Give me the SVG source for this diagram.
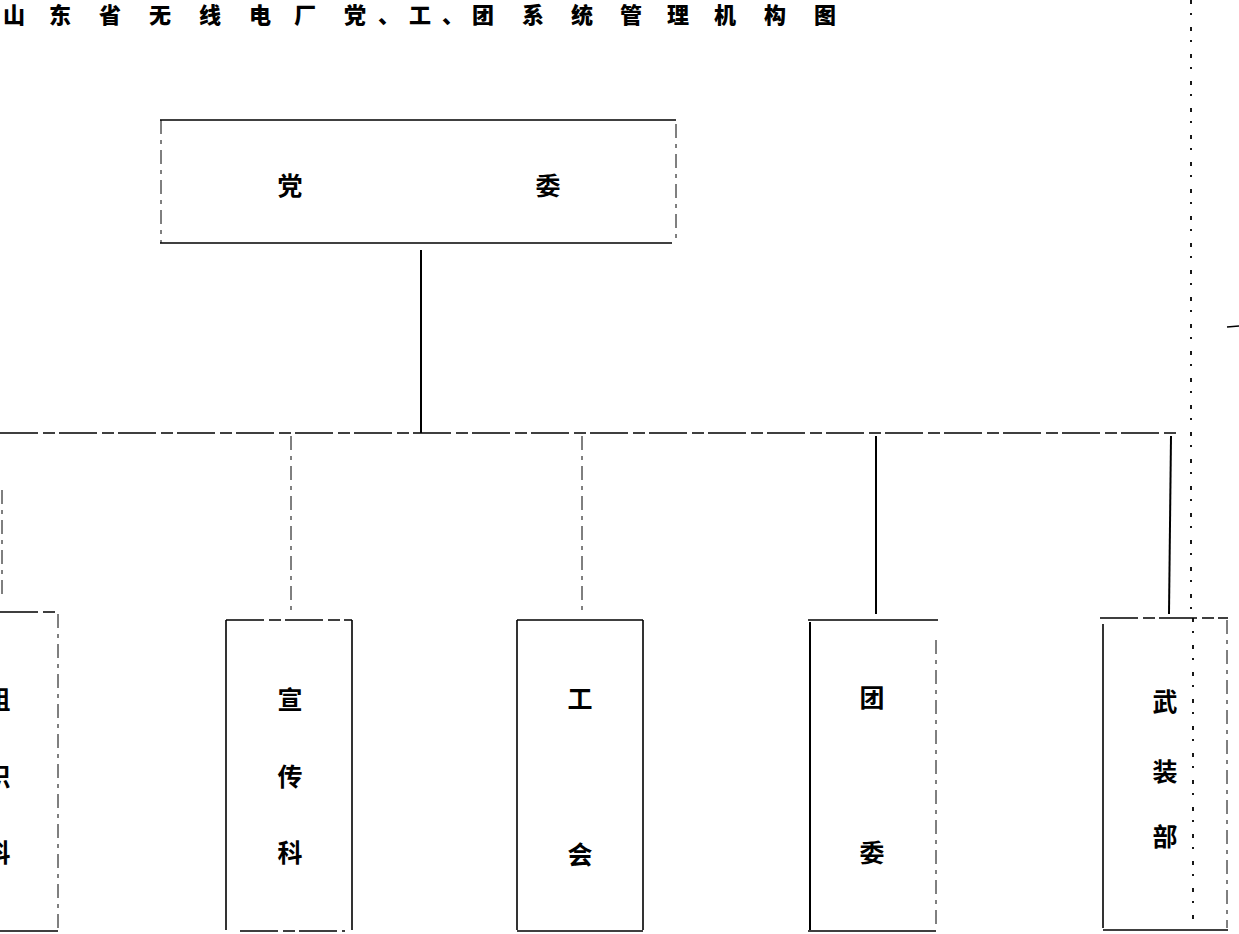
<svg xmlns="http://www.w3.org/2000/svg" width="1239" height="934" viewBox="0 0 1239 934">
<style>
.t{font-family:"Noto Sans CJK SC","Noto Sans",sans-serif;font-weight:900;fill:#000;text-anchor:middle}
.lbl{font-family:"Noto Sans CJK SC","Noto Sans",sans-serif;font-weight:700;font-size:25px;fill:#000;text-anchor:middle}
.e{stroke:#000;stroke-width:1.6;fill:none}
.d{stroke:#000;stroke-width:1.4;fill:none;stroke-dasharray:38 5 12 4}
.f{stroke:#000;stroke-width:1;fill:none;stroke-dasharray:14 6 4 6}
.s{stroke:#000;stroke-width:2;fill:none}
.dot{stroke:#000;stroke-width:1.8;fill:none;stroke-dasharray:4 9 2 12}
</style>
<rect width="1239" height="934" fill="#fff"/>
<g id="title">
<text class="t" font-size="22" y="23" x="14 60 110 160 210 260 305 355 389 420 453 483 533 582 631 678 725 775 825">山东省无线电厂党、工、团系统管理机构图</text>
</g>
<g id="connectors">
<line class="s" x1="421" y1="250" x2="421" y2="433"/>
<line class="d" x1="0" y1="433" x2="1177" y2="433"/>
<line class="f" x1="291" y1="436" x2="291" y2="612"/>
<line class="f" x1="582" y1="436" x2="582" y2="615"/>
<line class="s" x1="876" y1="436" x2="876" y2="614"/>
<line class="s" x1="1171" y1="436" x2="1169" y2="614"/>
<line class="f" x1="2" y1="490" x2="2" y2="600"/>
<line class="dot" x1="1191" y1="0" x2="1191" y2="612"/>
<line class="e" x1="1227" y1="327" x2="1239" y2="326"/>
</g>
<g id="n-dangwei">
<line class="e" x1="160" y1="120" x2="676" y2="120"/>
<line class="e" x1="160" y1="243" x2="672" y2="243"/>
<line class="f" x1="161" y1="120" x2="161" y2="243"/>
<line class="f" x1="676" y1="124" x2="676" y2="240"/>
<text class="lbl" font-size="26" x="290" y="195">党</text>
<text class="lbl" font-size="26" x="548" y="195">委</text>
</g>
<g id="n-zuzhike">
<line class="d" x1="0" y1="612" x2="58" y2="612"/>
<line class="f" x1="58" y1="614" x2="58" y2="930"/>
<line class="e" x1="0" y1="931" x2="58" y2="931"/>
<text class="lbl" x="-2" y="709">组</text>
<text class="lbl" x="-2" y="786">织</text>
<text class="lbl" x="-2" y="862">科</text>
</g>
<g id="n-xuanchuanke">
<line class="d" x1="226" y1="620" x2="352" y2="620"/>
<line class="e" x1="226" y1="620" x2="226" y2="930"/>
<line class="e" x1="352" y1="620" x2="352" y2="930"/>
<line class="d" x1="240" y1="931" x2="345" y2="931"/>
<text class="lbl" x="290" y="709">宣</text>
<text class="lbl" x="290" y="786">传</text>
<text class="lbl" x="290" y="862">科</text>
</g>
<g id="n-gonghui">
<line class="e" x1="517" y1="620" x2="643" y2="620"/>
<line class="e" x1="517" y1="620" x2="517" y2="930"/>
<line class="e" x1="643" y1="620" x2="643" y2="930"/>
<line class="e" x1="517" y1="931" x2="643" y2="931"/>
<text class="lbl" x="580" y="708">工</text>
<text class="lbl" x="580" y="864">会</text>
</g>
<g id="n-tuanwei">
<line class="e" x1="808" y1="620" x2="938" y2="620"/>
<line class="s" x1="810" y1="622" x2="810" y2="930"/>
<line class="f" x1="936" y1="640" x2="936" y2="930"/>
<line class="e" x1="808" y1="931" x2="936" y2="931"/>
<text class="lbl" x="872" y="707">团</text>
<text class="lbl" x="872" y="862">委</text>
</g>
<g id="n-wuzhuangbu">
<line class="d" x1="1100" y1="618" x2="1228" y2="618"/>
<line class="e" x1="1103" y1="624" x2="1103" y2="928"/>
<line class="dot" x1="1193" y1="618" x2="1193" y2="928"/>
<line class="f" x1="1227" y1="620" x2="1227" y2="928"/>
<line class="e" x1="1103" y1="930" x2="1228" y2="930"/>
<text class="lbl" x="1165" y="711">武</text>
<text class="lbl" x="1165" y="781">装</text>
<text class="lbl" x="1165" y="846">部</text>
</g>
</svg>
